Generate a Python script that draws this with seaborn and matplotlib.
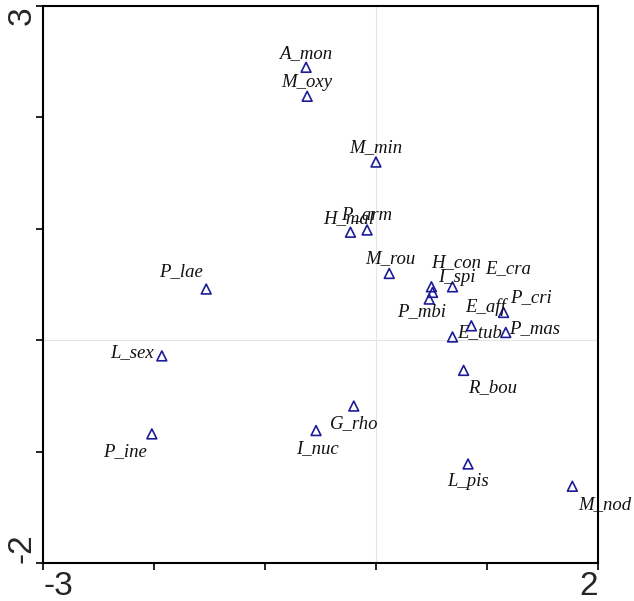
import pandas as pd
import numpy as np
import matplotlib
matplotlib.use('Agg')
import matplotlib.pyplot as plt
import seaborn as sns

# species scores (axis 1, axis 2)
species = ['A_mon', 'M_oxy', 'M_min', 'H_mal', 'P_arm', 'M_rou', 'P_lae',
           'H_con', 'E_cra', 'P_mbi', 'I_spi', 'P_cri', 'E_aff', 'E_tub',
           'P_mas', 'L_sex', 'R_bou', 'G_rho', 'P_ine', 'I_nuc', 'L_pis', 'M_nod']
axis1 = [-0.63, -0.62, 0.00, -0.23, -0.08, 0.12, -1.53,
         0.50, 0.51, 0.48, 0.69, 1.15, 0.86, 0.69,
         1.17, -1.93, 0.79, -0.20, -2.02, -0.54, 0.83, 1.77]
axis2 = [2.45, 2.19, 1.60, 0.97, 0.99, 0.60, 0.46,
         0.48, 0.43, 0.37, 0.48, 0.25, 0.13, 0.03,
         0.07, -0.14, -0.27, -0.59, -0.84, -0.81, -1.11, -1.31]

# label offsets in pixels (dx, dy), dy positive = up
label_dx = [0, 0, 0, -2, 0, 1, -25,
            25, 76, -8, 4, 27, 14, 27,
            29, -30, 29, 0, -27, 1, 0, 32]
label_dy = [14, 14, 14, 14, 15, 15, 17,
            24, 24, -13, 9, 15, 19, 4,
            4, 3, -17, -18, -18, -18, -18, -18]

df = pd.DataFrame({'species': species, 'axis1': axis1, 'axis2': axis2})

sns.set_style('white')
fig = plt.figure(figsize=(6.34, 6.01), dpi=100)
ax = fig.add_axes([0.068, 0.063, 0.875, 0.927])

ax.axhline(0, color='#e4e4e4', lw=0.8, zorder=0)
ax.axvline(0, color='#e4e4e4', lw=0.8, zorder=0)

sns.scatterplot(data=df, x='axis1', y='axis2', marker='^', s=50,
                facecolor='none', edgecolor='#1c1c96', linewidth=1.2, ax=ax, zorder=3)

for name, x, y, dx, dy in zip(species, axis1, axis2, label_dx, label_dy):
    ax.annotate(name, (x, y), xytext=(dx, dy), textcoords='offset pixels',
                ha='center', va='center', fontsize=13.5, fontstyle='italic',
                family='Liberation Serif', color='#111111')

ax.set_xlim(-3, 2)
ax.set_ylim(-2, 3)
ax.set_xticks(range(-3, 3))
ax.set_yticks(range(-2, 4))
ax.set_xticklabels(['-3', '', '', '', '', '2'], fontsize=24, family='Liberation Sans')
ax.set_yticklabels(['-2', '', '', '', '', '3'], fontsize=24, family='Liberation Sans',
                   rotation=90)
xl = ax.get_xticklabels()
xl[0].set_ha('left')
xl[-1].set_ha('right')
yl = ax.get_yticklabels()
yl[0].set_va('bottom')
yl[-1].set_va('top')
ax.tick_params(axis='both', direction='out', length=5, width=1.2, color='black',
               bottom=True, left=True)
ax.tick_params(axis='x', pad=1)
ax.tick_params(axis='y', pad=-1)
ax.set_xlabel('')
ax.set_ylabel('')
for sp in ax.spines.values():
    sp.set_color('black')
    sp.set_linewidth(1.5)

plt.savefig('out.png', dpi=100)
